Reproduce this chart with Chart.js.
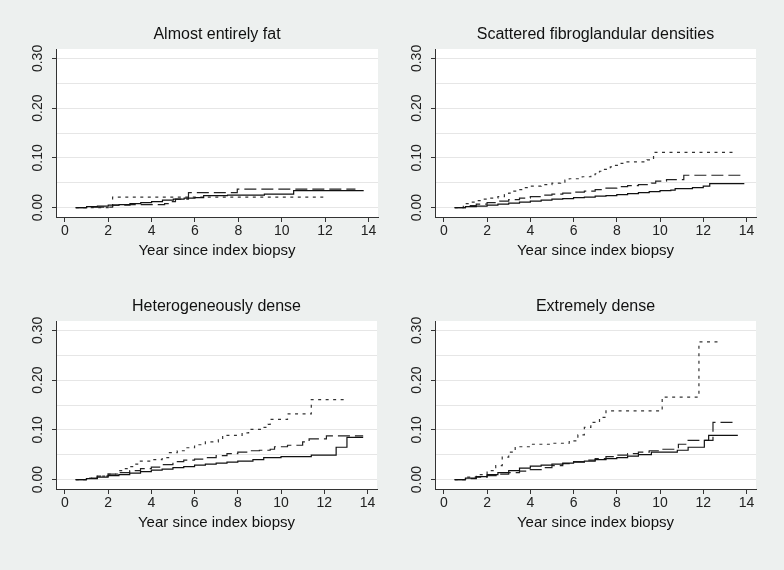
<!DOCTYPE html>
<html>
<head>
<meta charset="utf-8">
<script src="https://cdn.jsdelivr.net/npm/chart.js@4.4.1/dist/chart.umd.min.js"></script>
<style>
  html, body { margin:0; padding:0; background:#edf0ef; }
  #page { position:relative; width:784px; height:570px; overflow:hidden; background:#edf0ef; }
  canvas { position:absolute; }
</style>
</head>
<body>
<div id="page">
  <canvas id="c1" width="392" height="285" style="left:0;top:0"></canvas>
  <canvas id="c2" width="392" height="285" style="left:392px;top:0"></canvas>
  <canvas id="c3" width="392" height="285" style="left:0;top:285px"></canvas>
  <canvas id="c4" width="392" height="285" style="left:392px;top:285px"></canvas>
</div>
<script>
// tick values
const xTicks = [0, 2, 4, 6, 8, 10, 12, 14];
const yTicks = [0, 0.05, 0.10, 0.15, 0.20, 0.25, 0.30];
const xTitle = "Year since index biopsy";
const titles = ["Almost entirely fat", "Scattered fibroglandular densities", "Heterogeneously dense", "Extremely dense"];

// [year, cumulative incidence] — value holds from that year on
const fatSolid = [[0.5,0],[1,0.002],[1.5,0.003],[2,0.005],[2.5,0.006],[3,0.008],[3.5,0.010],[4,0.012],[4.5,0.015],[5,0.017],[5.5,0.019],[6,0.020],[6.4,0.024],[7.5,0.025],[9.2,0.027],[10.55,0.034],[13.78,0.034]];
const fatDashed = [[0.5,0],[1,0.001],[2.2,0.005],[3,0.006],[4.6,0.008],[4.8,0.012],[5.1,0.017],[5.7,0.030],[7.95,0.037],[13.4,0.037]];
const fatDotted = [[0.5,0],[2.2,0.021],[12.1,0.021]];

const scatSolid = [[0.5,0],[1,0.002],[1.5,0.003],[2,0.005],[2.5,0.007],[3,0.009],[3.5,0.011],[4,0.013],[4.5,0.015],[5,0.017],[5.5,0.018],[6,0.020],[6.5,0.021],[7,0.023],[7.5,0.024],[8,0.026],[8.5,0.028],[9,0.030],[9.5,0.032],[10,0.034],[10.5,0.035],[10.7,0.038],[11.5,0.040],[12,0.043],[12.3,0.048],[13.9,0.048]];
const scatDashed = [[0.5,0],[1,0.004],[1.5,0.007],[2,0.010],[2.5,0.013],[3,0.016],[3.5,0.019],[4,0.022],[4.5,0.025],[5,0.027],[5.5,0.029],[6,0.031],[6.5,0.033],[7,0.036],[7.5,0.039],[8,0.042],[8.5,0.044],[9,0.046],[9.6,0.049],[9.8,0.053],[10.3,0.056],[11.1,0.065],[13.72,0.065]];
const scatDotted = [[0.5,0],[0.9,0.008],[1.2,0.011],[1.5,0.014],[1.8,0.017],[2,0.019],[2.5,0.022],[2.8,0.026],[3,0.029],[3.2,0.033],[3.4,0.036],[3.7,0.040],[3.9,0.043],[4.5,0.046],[5,0.049],[5.4,0.051],[5.6,0.055],[5.8,0.058],[6.4,0.062],[6.8,0.066],[7,0.068],[7.2,0.073],[7.4,0.077],[7.7,0.082],[7.9,0.085],[8.2,0.089],[8.4,0.092],[9.4,0.096],[9.7,0.111],[13.45,0.111]];

const hetSolid = [[0.5,0],[1,0.002],[1.5,0.005],[2,0.008],[2.5,0.010],[3,0.013],[3.5,0.016],[4,0.019],[4.5,0.021],[5,0.024],[5.5,0.026],[6,0.029],[6.5,0.031],[7,0.033],[7.5,0.035],[8,0.037],[8.7,0.040],[9.2,0.044],[10,0.046],[11.4,0.049],[12.55,0.065],[13.05,0.085],[13.8,0.085]];
const hetDashed = [[0.5,0],[1,0.003],[1.5,0.007],[2,0.011],[2.5,0.014],[3,0.018],[3.5,0.022],[4,0.025],[4.5,0.030],[5,0.036],[5.5,0.039],[6,0.041],[6.5,0.044],[7,0.048],[7.5,0.052],[8,0.055],[8.5,0.058],[9,0.059],[9.5,0.061],[9.7,0.066],[10.3,0.069],[11,0.076],[11.3,0.082],[12.1,0.088],[13.8,0.088]];
const hetDotted = [[0.5,0],[1,0.003],[1.5,0.007],[2,0.011],[2.5,0.018],[2.8,0.022],[3,0.026],[3.2,0.031],[3.4,0.037],[4,0.040],[4.5,0.044],[4.8,0.054],[5.2,0.058],[5.6,0.064],[6,0.070],[6.5,0.076],[7.1,0.080],[7.3,0.089],[8.2,0.094],[8.5,0.101],[9.1,0.105],[9.4,0.111],[9.5,0.121],[10.3,0.132],[11.4,0.161],[13.07,0.161]];

const extSolid = [[0.5,0],[1,0.003],[1.5,0.006],[2,0.010],[2.5,0.014],[3,0.018],[3.5,0.023],[4,0.027],[4.5,0.029],[5,0.031],[5.5,0.033],[6,0.035],[6.5,0.037],[7,0.040],[7.5,0.042],[8,0.044],[8.5,0.047],[9,0.050],[9.6,0.055],[10.8,0.059],[11.3,0.065],[12.05,0.079],[12.25,0.089],[13.6,0.089]];
const extDashed = [[0.5,0],[1,0.002],[1.5,0.005],[2,0.008],[2.5,0.011],[3,0.014],[3.5,0.017],[4,0.020],[4.5,0.024],[5,0.028],[5.5,0.032],[6,0.036],[6.5,0.039],[7,0.042],[7.5,0.046],[8,0.049],[8.5,0.052],[9,0.055],[9.5,0.058],[10,0.061],[10.85,0.071],[11.3,0.079],[12.45,0.115],[13.38,0.115]];
const extDotted = [[0.5,0],[1,0.005],[1.5,0.010],[2,0.018],[2.4,0.028],[2.7,0.045],[3,0.055],[3.3,0.066],[4,0.071],[5,0.073],[5.8,0.078],[6.2,0.090],[6.5,0.105],[6.8,0.115],[7.2,0.125],[7.5,0.138],[10.1,0.166],[11.8,0.277],[12.85,0.277]];

const lineStyles = [
  { color: "#111", dash: [] },
  { color: "#222", dash: [12, 5] },
  { color: "#333", dash: [3, 4.5] }
];

Chart.defaults.font.family = "'Liberation Sans', Arial, sans-serif";

const plotBg = {
  id: "plotBg",
  beforeDraw(chart) {
    const { ctx, chartArea: a } = chart;
    ctx.save();
    ctx.fillStyle = "#ffffff";
    ctx.fillRect(a.left, a.top, a.right - a.left, a.bottom - a.top);
    ctx.restore();
  }
};

const panels = [
  { id: "c1", title: titles[0], lines: [fatSolid, fatDashed, fatDotted], plot: { left: 56, right: 378, top: 49, bottom: 217 } },
  { id: "c2", title: titles[1], lines: [scatSolid, scatDashed, scatDotted], plot: { left: 43, right: 364, top: 49, bottom: 217 } },
  { id: "c3", title: titles[2], lines: [hetSolid, hetDashed, hetDotted], plot: { left: 56, right: 377, top: 36, bottom: 204 } },
  { id: "c4", title: titles[3], lines: [extSolid, extDashed, extDotted], plot: { left: 43, right: 364, top: 36, bottom: 204 } }
];

function makeChart(p) {
  const canvas = document.getElementById(p.id);
  return new Chart(canvas, {
    type: "line",
    data: {
      datasets: p.lines.map((pts, i) => ({
        data: pts.map(d => ({ x: d[0], y: d[1] })),
        stepped: true,
        borderColor: lineStyles[i].color,
        borderDash: lineStyles[i].dash,
        borderWidth: 1.2,
        pointRadius: 0,
        fill: false
      }))
    },
    options: {
      responsive: false,
      animation: false,
      events: [],
      layout: { padding: { left: 0, right: 392 - p.plot.right, top: 0, bottom: 285 - p.plot.bottom - 68 } },
      plugins: {
        legend: { display: false },
        tooltip: { enabled: false },
        title: {
          display: true,
          text: p.title,
          fullSize: false,
          color: "#111",
          font: { size: 16, weight: "normal" },
          padding: { top: p.plot.top - 23.6, bottom: 4.4 }
        }
      },
      scales: {
        x: {
          type: "linear",
          min: -0.41,
          max: 14.44,
          afterBuildTicks: s => { s.ticks = xTicks.map(v => ({ value: v })); },
          afterFit: s => { s.height = 68; },
          grid: { drawOnChartArea: false, tickLength: 5, tickColor: "#333" },
          border: { color: "#333", width: 1 },
          ticks: { color: "#222", font: { size: 14 }, padding: 1, maxRotation: 0, autoSkip: false },
          title: { display: true, text: xTitle, color: "#111", font: { size: 15 }, padding: { top: 0, bottom: 25 } }
        },
        y: {
          type: "linear",
          min: -0.019,
          max: 0.319,
          afterBuildTicks: s => { s.ticks = yTicks.map(v => ({ value: v })); },
          afterFit: s => { s.width = p.plot.left; },
          grid: {
            color: "#e6e6e6",
            tickLength: 4,
            tickColor: ctx => (Math.round(ctx.tick.value * 100) % 10 === 0 ? "#333" : "rgba(0,0,0,0)")
          },
          border: { color: "#333", width: 1 },
          ticks: {
            color: "#222",
            font: { size: 14 },
            minRotation: 90,
            maxRotation: 90,
            crossAlign: "center",
            padding: 0,
            autoSkip: false,
            callback: v => (Math.round(v * 100) % 10 === 0 ? Number(v).toFixed(2) : "")
          }
        }
      }
    },
    plugins: [plotBg]
  });
}

panels.forEach(makeChart);
</script>
</body>
</html>
